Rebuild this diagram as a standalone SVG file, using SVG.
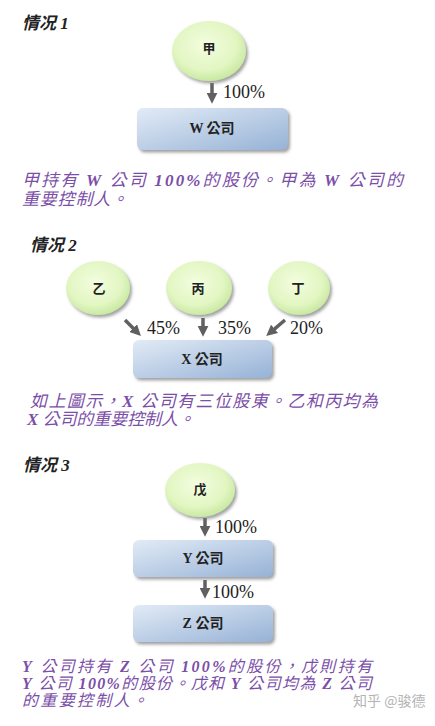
<svg xmlns="http://www.w3.org/2000/svg" width="435" height="726" viewBox="0 0 435 726">
<style>
.title{font-family:"Liberation Serif","Noto Sans CJK SC",serif;font-size:17px;font-weight:bold;font-style:italic;fill:#222}
.para{font-family:"Liberation Serif","Noto Sans CJK TC",serif;font-size:17px;font-style:italic;fill:#7b4ea8}
.para .b{font-weight:bold}
.p3{font-size:16px}
.pct{font-family:"Liberation Serif","Noto Sans CJK TC",serif;font-size:18px;fill:#222}
.clabel{font-family:"Noto Sans CJK TC","Liberation Sans",sans-serif;font-size:13px;font-weight:bold;fill:#222;text-anchor:middle}
.blabel{font-family:"Liberation Serif","Noto Sans CJK TC",serif;font-size:14px;font-weight:bold;fill:#222;text-anchor:middle}
.circ{fill:url(#gGreen);filter:url(#sh)}
.box{fill:url(#gBlue);filter:url(#sh)}
.arr{stroke:#606060;stroke-width:3.5;fill:none;marker-end:url(#ah)}
.wm{font-family:"Noto Sans CJK SC",sans-serif;font-size:14px;fill:#b4b4b4}
</style>
<defs>
<radialGradient id="gGreen" cx="0.45" cy="0.4" r="0.6">
<stop offset="0" stop-color="#f3fde0"/>
<stop offset="0.7" stop-color="#e2f6c2"/>
<stop offset="1" stop-color="#c9e9a2"/>
</radialGradient>
<linearGradient id="gBlue" x1="0" y1="0" x2="1" y2="1">
<stop offset="0" stop-color="#e2ebf6"/>
<stop offset="1" stop-color="#96b2d6"/>
</linearGradient>
<filter id="sh" x="-20%" y="-20%" width="150%" height="150%">
<feDropShadow dx="2" dy="2.5" stdDeviation="1.5" flood-color="#7a7a7a" flood-opacity="0.7"/>
</filter>
<marker id="ah" viewBox="0 0 10 10" refX="2" refY="5" markerWidth="11" markerHeight="11" markerUnits="userSpaceOnUse" orient="auto">
<path d="M0,0 L10,5 L0,10 z" fill="#606060"/>
</marker>
</defs>
<rect width="435" height="726" fill="#fff"/>

<text class="title" x="22" y="29">情况 1</text>
<text class="title" x="30" y="251">情况 2</text>
<text class="title" x="23" y="471">情况 3</text>

<g id="connectors">
<line class="arr" x1="212" y1="83" x2="212" y2="95"/>
<line class="arr" x1="125" y1="320" x2="134.7" y2="329.7"/>
<line class="arr" x1="203" y1="318" x2="203" y2="328"/>
<line class="arr" x1="285" y1="320" x2="272.9" y2="330.3"/>
<line class="arr" x1="205" y1="518" x2="205" y2="528"/>
<line class="arr" x1="205" y1="580" x2="205" y2="590"/>
<text class="pct" x="223" y="98">100%</text>
<text class="pct" x="147" y="334">45%</text>
<text class="pct" x="218" y="334">35%</text>
<text class="pct" x="290" y="334">20%</text>
<text class="pct" x="215" y="533">100%</text>
<text class="pct" x="212" y="598">100%</text>
</g>

<g id="node-jia">
<ellipse class="circ" cx="209" cy="51" rx="37" ry="30"/>
<text class="clabel" x="209" y="53">甲</text>
</g>
<g id="node-w">
<rect class="box" x="137" y="108" width="151" height="42" rx="6"/>
<text class="blabel" x="212" y="133">W 公司</text>
</g>

<g id="node-yi">
<ellipse class="circ" cx="98" cy="288" rx="32" ry="27"/>
<text class="clabel" x="99" y="293">乙</text>
</g>
<g id="node-bing">
<ellipse class="circ" cx="199" cy="288" rx="33" ry="27"/>
<text class="clabel" x="198" y="293">丙</text>
</g>
<g id="node-ding">
<ellipse class="circ" cx="299" cy="288" rx="31" ry="27"/>
<text class="clabel" x="298" y="293">丁</text>
</g>
<g id="node-x">
<rect class="box" x="133" y="340" width="139" height="38" rx="6"/>
<text class="blabel" x="202" y="364">X 公司</text>
</g>

<g id="node-wu">
<ellipse class="circ" cx="200" cy="490" rx="35" ry="27"/>
<text class="clabel" x="200" y="494">戊</text>
</g>
<g id="node-y">
<rect class="box" x="133" y="540" width="140" height="37" rx="6"/>
<text class="blabel" x="203" y="563">Y 公司</text>
</g>
<g id="node-z">
<rect class="box" x="133" y="605" width="140" height="37" rx="6"/>
<text class="blabel" x="203" y="628">Z 公司</text>
</g>

<text class="para" x="22" y="186" textLength="381" lengthAdjust="spacing">甲持有 <tspan class="b">W</tspan> 公司 <tspan class="b">100%</tspan>的股份。甲為 <tspan class="b">W</tspan> 公司的</text>
<text class="para" x="22" y="205" textLength="106" lengthAdjust="spacing">重要控制人。</text>

<text class="para" x="30" y="407" textLength="348" lengthAdjust="spacing">如上圖示，<tspan class="b">X</tspan> 公司有三位股東。乙和丙均為</text>
<text class="para" x="27" y="425" textLength="168" lengthAdjust="spacing"><tspan class="b">X</tspan> 公司的重要控制人。</text>

<text class="para p3" x="22" y="672" textLength="350" lengthAdjust="spacing"><tspan class="b">Y</tspan> 公司持有 <tspan class="b">Z</tspan> 公司 <tspan class="b">100%</tspan>的股份，戊則持有</text>
<text class="para p3" x="22" y="689" textLength="350" lengthAdjust="spacing"><tspan class="b">Y</tspan> 公司 <tspan class="b">100%</tspan>的股份。戊和 <tspan class="b">Y</tspan> 公司均為 <tspan class="b">Z</tspan> 公司</text>
<text class="para p3" x="22" y="706" textLength="126" lengthAdjust="spacing">的重要控制人。</text>

<text class="wm" x="353" y="706">知乎 @骏德</text>
</svg>
